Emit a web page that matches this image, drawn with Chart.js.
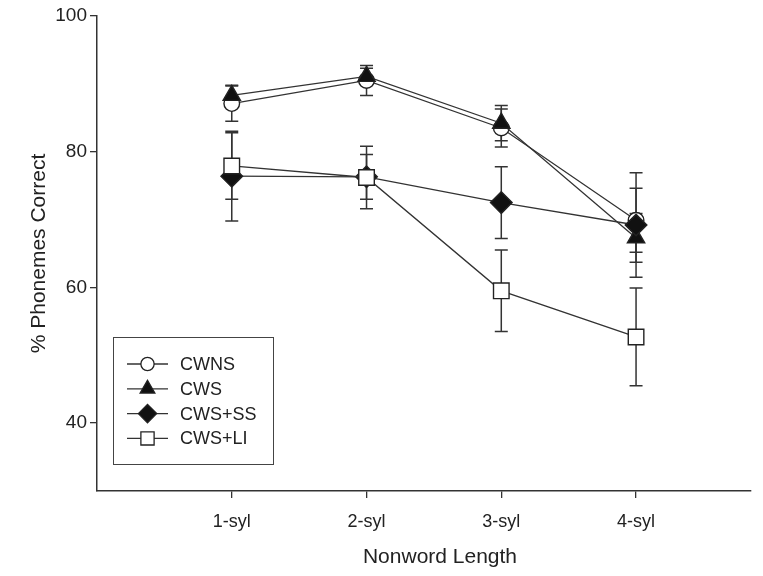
<!DOCTYPE html>
<html>
<head>
<meta charset="utf-8">
<script src="https://cdn.jsdelivr.net/npm/chart.js@4"></script>
<style>
  body { margin: 0; background: #fff; }
  #wrap { width: 763px; height: 576px; }
</style>
</head>
<body>
<div id="wrap"><canvas id="chart" width="763" height="576"></canvas></div>
<script>
// 범주 및 값
const categories = ['1-syl', '2-syl', '3-syl', '4-syl'];
const seriesNames = ['CWNS', 'CWS', 'CWS+SS', 'CWS+LI'];

const cwnsMeans = [87.1, 90.5, 83.5, 69.9];
const cwnsErrors = [2.6, 2.2, 2.8, 4.7];
const cwsMeans = [88.3, 91.1, 84.2, 67.3];
const cwsErrors = [1.5, 1.2, 2.6, 3.6];
const ssMeans = [76.4, 76.3, 72.5, 69.2];
const ssErrors = [6.6, 3.3, 5.3, 7.7];
const liMeans = [77.9, 76.2, 59.5, 52.7];
const liErrors = [4.9, 4.6, 6.0, 7.2];

const yTicks = [40, 60, 80, 100];

const ink = '#222';
const fontFamily = '"Liberation Sans", Arial, Helvetica, sans-serif';

function toPoints(means) {
    return means.map((v, i) => ({ x: i + 1, y: v }));
}

function makeDataset(label, means, errors, style, radius, fill, order) {
    return {
        label: label,
        data: toPoints(means),
        means: means,
        errors: errors,
        borderColor: '#333',
        borderWidth: 1.3,
        pointStyle: style,
        pointRadius: radius,
        pointHoverRadius: radius,
        pointBackgroundColor: fill,
        pointBorderColor: ink,
        pointBorderWidth: 1.4,
        fill: false,
        tension: 0,
        order: order
    };
}

// 오차 막대: 마커 아래에 먼저 그림
const errorBars = {
    id: 'errorBars',
    beforeDatasetsDraw(chart) {
        const { ctx, scales: { x, y } } = chart;
        ctx.save();
        ctx.strokeStyle = '#333';
        ctx.lineWidth = 1.5;
        chart.data.datasets.forEach(ds => {
            ds.errors.forEach((e, j) => {
                const px = x.getPixelForValue(j + 1);
                const top = y.getPixelForValue(ds.means[j] + e);
                const bot = y.getPixelForValue(ds.means[j] - e);
                ctx.beginPath();
                ctx.moveTo(px, top);
                ctx.lineTo(px, bot);
                ctx.moveTo(px - 6.5, top);
                ctx.lineTo(px + 6.5, top);
                ctx.moveTo(px - 6.5, bot);
                ctx.lineTo(px + 6.5, bot);
                ctx.stroke();
            });
        });
        ctx.restore();
    }
};

// 범례 상자 (플롯 안 왼쪽 아래) 와 x축 제목
const boxLegend = {
    id: 'boxLegend',
    afterDraw(chart) {
        const ctx = chart.ctx;
        ctx.save();
        ctx.strokeStyle = '#444';
        ctx.lineWidth = 1;
        ctx.strokeRect(113.5, 337.5, 160, 127);
        ctx.font = '18px ' + fontFamily;
        ctx.textBaseline = 'middle';
        ctx.textAlign = 'left';
        chart.data.datasets.forEach((ds, i) => {
            const rowY = 364 + i * 24.8;
            ctx.strokeStyle = '#333';
            ctx.lineWidth = 1.3;
            ctx.beginPath();
            ctx.moveTo(127, rowY);
            ctx.lineTo(168, rowY);
            ctx.stroke();
            ctx.fillStyle = ds.pointBackgroundColor;
            ctx.strokeStyle = ink;
            Chart.helpers.drawPoint(ctx, {
                pointStyle: ds.pointStyle,
                radius: ds.pointRadius * 0.85,
                rotation: 0,
                borderWidth: 1.3
            }, 147.5, rowY);
            ctx.fillStyle = ink;
            ctx.fillText(ds.label, 180, rowY + 1);
        });
        ctx.font = '21px ' + fontFamily;
        ctx.textAlign = 'center';
        ctx.fillText('Nonword Length', 440, 557);
        ctx.restore();
    }
};

const chart = new Chart(document.getElementById('chart').getContext('2d'), {
    type: 'line',
    data: {
        datasets: [
            makeDataset(seriesNames[0], cwnsMeans, cwnsErrors, 'circle', 7.8, '#fff', 4),
            makeDataset(seriesNames[1], cwsMeans, cwsErrors, 'triangle', 10, '#111', 3),
            makeDataset(seriesNames[2], ssMeans, ssErrors, 'rectRot', 10.8, '#111', 2),
            makeDataset(seriesNames[3], liMeans, liErrors, 'rect', 11, '#fff', 1)
        ]
    },
    options: {
        responsive: false,
        animation: false,
        layout: { padding: { top: 16, right: 10, left: 0, bottom: 0 } },
        plugins: {
            legend: { display: false },
            tooltip: { enabled: false }
        },
        scales: {
            x: {
                type: 'linear',
                min: 0,
                max: 4.85,
                grid: { display: true, drawOnChartArea: false, drawTicks: true, tickLength: 7, color: '#333', lineWidth: 1.3 },
                border: { display: true, color: '#333', width: 1.5 },
                afterBuildTicks(scale) {
                    scale.ticks = categories.map((c, i) => ({ value: i + 1 }));
                },
                afterFit(scale) { scale.height = 85; },
                ticks: {
                    color: ink,
                    padding: 13,
                    font: { size: 18, family: fontFamily },
                    maxRotation: 0,
                    callback: (v) => categories[v - 1]
                }
            },
            y: {
                min: 30,
                max: 100,
                grid: { display: true, drawOnChartArea: false, drawTicks: true, tickLength: 7, color: '#333', lineWidth: 1.3 },
                border: { display: true, color: '#333', width: 1.5 },
                afterBuildTicks(scale) {
                    scale.ticks = yTicks.map(v => ({ value: v }));
                },
                afterFit(scale) { scale.width = 97; },
                ticks: {
                    color: ink,
                    padding: 3,
                    font: { size: 19, family: fontFamily }
                },
                title: {
                    display: true,
                    text: '% Phonemes Correct',
                    color: ink,
                    padding: { top: 27, bottom: 0 },
                    font: { size: 21, family: fontFamily }
                }
            }
        }
    },
    plugins: [errorBars, boxLegend]
});
</script>
</body>
</html>
